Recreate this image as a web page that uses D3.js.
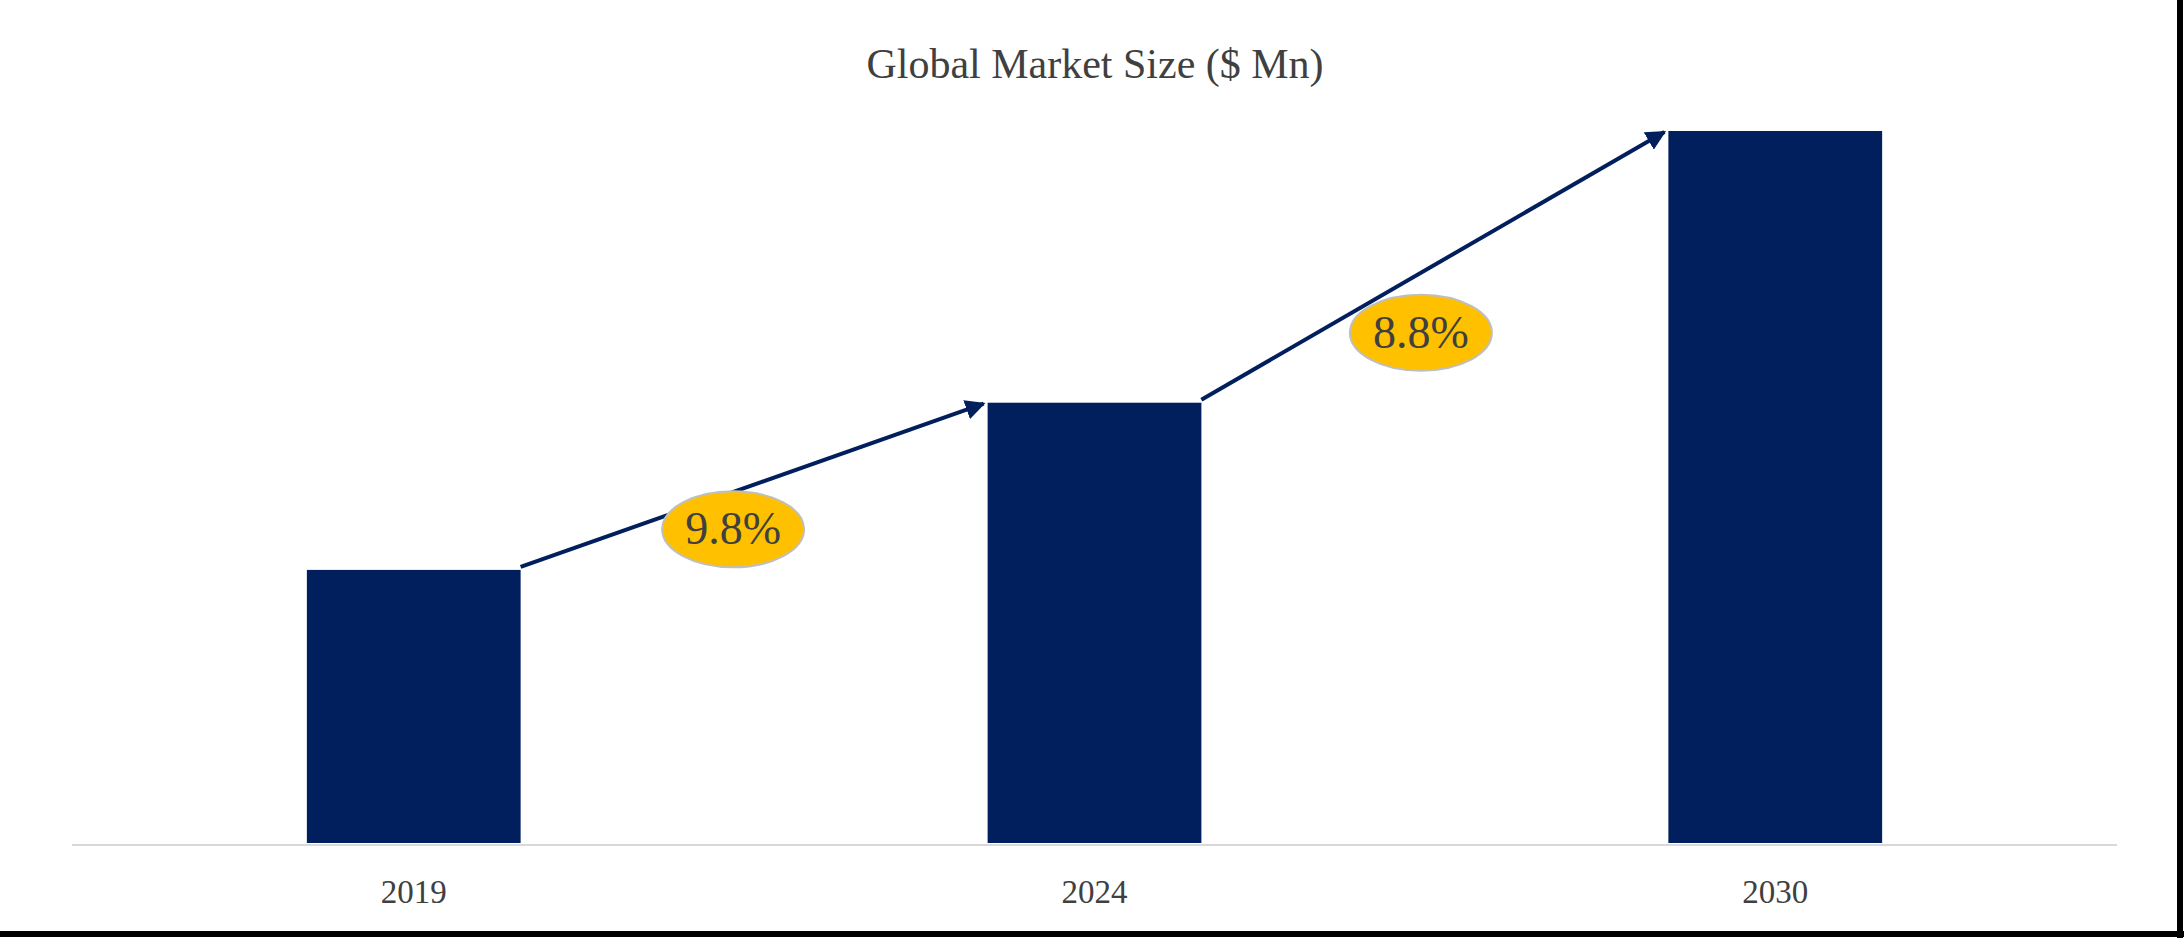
<!DOCTYPE html>
<html><head><meta charset="utf-8">
<script src="https://cdn.jsdelivr.net/npm/d3@7"></script>
<style>body{margin:0;background:#fff}svg{display:block}</style>
</head><body>
<script>
const years = ["2019","2024","2030"];
const values = [196, 316, 511];
const cagrLabels = ["9.8%","8.8%"];

const W=2184,H=938;
const svg=d3.select("body").append("svg").attr("width",W).attr("height",H);
svg.append("rect").attr("width",W).attr("height",H).attr("fill","#fff");
svg.append("line").attr("x1",W-4).attr("x2",W-4).attr("y1",0).attr("y2",H).attr("stroke","#000").attr("stroke-width",6);
svg.append("line").attr("x1",0).attr("x2",W).attr("y1",H-4).attr("y2",H-4).attr("stroke","#000").attr("stroke-width",6);

const x=d3.scaleBand().domain(years).range([72,2117]).paddingInner(0.686).paddingOuter(0.345);
const y=d3.scaleLinear().domain([0,511]).range([843,131]);

svg.append("text").attr("x",1095).attr("y",78).attr("text-anchor","middle")
 .attr("font-family","Liberation Serif").attr("font-size",42).attr("fill","#404040").text("Global Market Size ($ Mn)");

svg.selectAll("rect.bar").data(values).join("rect").attr("class","bar")
 .attr("x",(d,i)=>x(years[i])).attr("width",x.bandwidth())
 .attr("y",d=>y(d)).attr("height",d=>y(0)-y(d)).attr("fill","#001F5C");

svg.append("line").attr("x1",72).attr("x2",2117).attr("y1",845).attr("y2",845).attr("stroke","#d9d9d9").attr("stroke-width",2);

svg.selectAll("text.yr").data(years).join("text").attr("class","yr")
 .attr("x",d=>x(d)+x.bandwidth()/2).attr("y",903).attr("text-anchor","middle")
 .attr("font-family","Liberation Serif").attr("font-size",33).attr("fill","#404040").text(d=>d);

svg.append("defs").append("marker").attr("id","ah").attr("viewBox","0 0 10 10").attr("refX",9).attr("refY",5)
 .attr("markerWidth",5).attr("markerHeight",5).attr("orient","auto")
 .append("path").attr("d","M0,0L10,5L0,10z").attr("fill","#001F5C");

const offs=[[-19,44],[-12,67]];
cagrLabels.forEach((lab,i)=>{
  const x1=x(years[i])+x.bandwidth(), y1=y(values[i])-3;
  const x2=x(years[i+1])-4, y2=y(values[i+1])+1;
  svg.append("line").attr("x1",x1).attr("y1",y1).attr("x2",x2).attr("y2",y2)
   .attr("stroke","#001F5C").attr("stroke-width",4).attr("marker-end","url(#ah)");
  const cx=(x1+x2)/2+offs[i][0], cy=(y1+y2)/2+offs[i][1];
  svg.append("ellipse").attr("cx",cx).attr("cy",cy).attr("rx",71).attr("ry",38)
   .attr("fill","#FFC000").attr("stroke","#bfbfbf").attr("stroke-width",2);
  svg.append("text").attr("x",cx).attr("y",cy+15).attr("text-anchor","middle")
   .attr("font-family","Liberation Serif").attr("font-size",46).attr("fill","#404040").text(lab);
});
</script>
</body></html>
